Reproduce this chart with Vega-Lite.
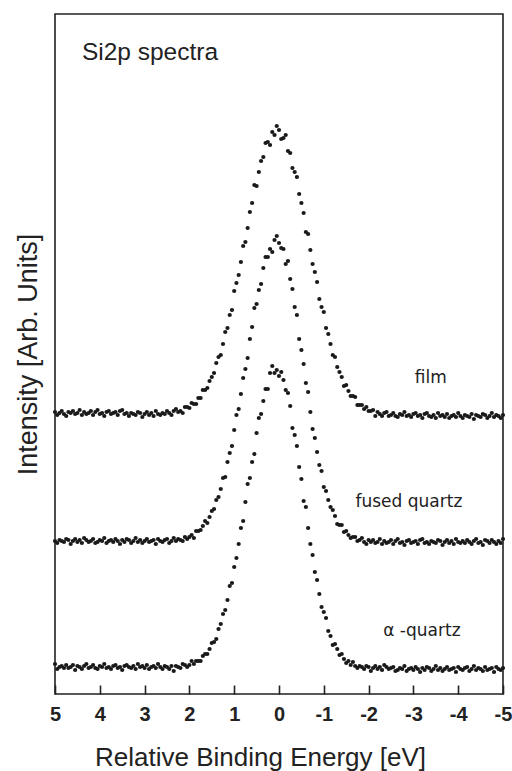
{
"$schema":"https://vega.github.io/schema/vega-lite/v6.json",
"width":448,"height":680,
"autosize":{"type":"none"},
"padding":{"left":55,"top":14,"right":9,"bottom":77},
"background":"white",
"config":{"view":{"stroke":"#222","strokeWidth":1.6},"font":"Liberation Sans"},
"datasets":{
"film":[{"e":5,"v":282},{"e":4.95,"v":279},{"e":4.9,"v":281},{"e":4.85,"v":283},{"e":4.8,"v":280},{"e":4.75,"v":278},{"e":4.7,"v":282},{"e":4.65,"v":281},{"e":4.6,"v":283},{"e":4.55,"v":280},
{"e":4.5,"v":281},{"e":4.45,"v":284},{"e":4.4,"v":279},{"e":4.35,"v":282},{"e":4.3,"v":280},{"e":4.25,"v":281},{"e":4.2,"v":283},{"e":4.15,"v":279},{"e":4.1,"v":282},{"e":4.05,"v":284},
{"e":4,"v":280},{"e":3.95,"v":281},{"e":3.9,"v":278},{"e":3.85,"v":282},{"e":3.8,"v":283},{"e":3.75,"v":280},{"e":3.7,"v":281},{"e":3.65,"v":282},{"e":3.6,"v":279},{"e":3.55,"v":283},
{"e":3.5,"v":284},{"e":3.45,"v":280},{"e":3.4,"v":281},{"e":3.35,"v":278},{"e":3.3,"v":281},{"e":3.25,"v":280},{"e":3.2,"v":279},{"e":3.15,"v":282},{"e":3.1,"v":281},{"e":3.05,"v":277},
{"e":3,"v":280},{"e":2.95,"v":282},{"e":2.9,"v":279},{"e":2.85,"v":281},{"e":2.8,"v":278},{"e":2.75,"v":283},{"e":2.7,"v":280},{"e":2.65,"v":279},{"e":2.6,"v":281},{"e":2.55,"v":280},
{"e":2.5,"v":283},{"e":2.45,"v":281},{"e":2.4,"v":279},{"e":2.35,"v":283},{"e":2.3,"v":285},{"e":2.25,"v":282},{"e":2.2,"v":283},{"e":2.15,"v":281},{"e":2.1,"v":287},{"e":2.05,"v":287},
{"e":2,"v":286},{"e":1.95,"v":291},{"e":1.9,"v":290},{"e":1.85,"v":290},{"e":1.8,"v":296},{"e":1.75,"v":296},{"e":1.7,"v":304},{"e":1.65,"v":304},{"e":1.6,"v":306},{"e":1.55,"v":313},
{"e":1.5,"v":317},{"e":1.45,"v":321},{"e":1.4,"v":331},{"e":1.35,"v":337},{"e":1.3,"v":339},{"e":1.25,"v":350},{"e":1.2,"v":362},{"e":1.15,"v":366},{"e":1.1,"v":379},{"e":1.05,"v":384},
{"e":1,"v":403},{"e":0.95,"v":411},{"e":0.9,"v":419},{"e":0.85,"v":432},{"e":0.8,"v":448},{"e":0.75,"v":452},{"e":0.7,"v":466},{"e":0.65,"v":482},{"e":0.6,"v":491},{"e":0.55,"v":509},
{"e":0.5,"v":508},{"e":0.45,"v":522},{"e":0.4,"v":533},{"e":0.35,"v":537},{"e":0.3,"v":551},{"e":0.25,"v":552},{"e":0.2,"v":549},{"e":0.15,"v":562},{"e":0.1,"v":559},{"e":0.05,"v":568},
{"e":0,"v":564},{"e":-0.05,"v":555},{"e":-0.1,"v":556},{"e":-0.15,"v":559},{"e":-0.2,"v":543},{"e":-0.25,"v":541},{"e":-0.3,"v":526},{"e":-0.35,"v":522},{"e":-0.4,"v":517},{"e":-0.45,"v":500},
{"e":-0.5,"v":491},{"e":-0.55,"v":481},{"e":-0.6,"v":462},{"e":-0.65,"v":460},{"e":-0.7,"v":444},{"e":-0.75,"v":430},{"e":-0.8,"v":422},{"e":-0.85,"v":412},{"e":-0.9,"v":395},{"e":-0.95,"v":387},
{"e":-1,"v":382},{"e":-1.05,"v":366},{"e":-1.1,"v":360},{"e":-1.15,"v":350},{"e":-1.2,"v":339},{"e":-1.25,"v":337},{"e":-1.3,"v":327},{"e":-1.35,"v":322},{"e":-1.4,"v":317},{"e":-1.45,"v":308},
{"e":-1.5,"v":309},{"e":-1.55,"v":303},{"e":-1.6,"v":298},{"e":-1.65,"v":298},{"e":-1.7,"v":297},{"e":-1.75,"v":289},{"e":-1.8,"v":289},{"e":-1.85,"v":289},{"e":-1.9,"v":285},{"e":-1.95,"v":287},
{"e":-2,"v":283},{"e":-2.05,"v":283},{"e":-2.1,"v":284},{"e":-2.15,"v":278},{"e":-2.2,"v":282},{"e":-2.25,"v":280},{"e":-2.3,"v":278},{"e":-2.35,"v":281},{"e":-2.4,"v":282},{"e":-2.45,"v":278},
{"e":-2.5,"v":279},{"e":-2.55,"v":281},{"e":-2.6,"v":278},{"e":-2.65,"v":277},{"e":-2.7,"v":280},{"e":-2.75,"v":279},{"e":-2.8,"v":282},{"e":-2.85,"v":278},{"e":-2.9,"v":279},{"e":-2.95,"v":277},
{"e":-3,"v":280},{"e":-3.05,"v":281},{"e":-3.1,"v":278},{"e":-3.15,"v":279},{"e":-3.2,"v":276},{"e":-3.25,"v":280},{"e":-3.3,"v":281},{"e":-3.35,"v":278},{"e":-3.4,"v":277},{"e":-3.45,"v":279},
{"e":-3.5,"v":276},{"e":-3.55,"v":281},{"e":-3.6,"v":278},{"e":-3.65,"v":279},{"e":-3.7,"v":277},{"e":-3.75,"v":280},{"e":-3.8,"v":276},{"e":-3.85,"v":278},{"e":-3.9,"v":279},{"e":-3.95,"v":277},
{"e":-4,"v":281},{"e":-4.05,"v":278},{"e":-4.1,"v":276},{"e":-4.15,"v":279},{"e":-4.2,"v":278},{"e":-4.25,"v":277},{"e":-4.3,"v":280},{"e":-4.35,"v":275},{"e":-4.4,"v":279},{"e":-4.45,"v":278},
{"e":-4.5,"v":277},{"e":-4.55,"v":280},{"e":-4.6,"v":279},{"e":-4.65,"v":276},{"e":-4.7,"v":278},{"e":-4.75,"v":281},{"e":-4.8,"v":277},{"e":-4.85,"v":279},{"e":-4.9,"v":278},{"e":-4.95,"v":276},
{"e":-5,"v":279}],
"fused":[{"e":5,"v":153},{"e":4.95,"v":151},{"e":4.9,"v":154},{"e":4.85,"v":153},{"e":4.8,"v":152},{"e":4.75,"v":155},{"e":4.7,"v":154},{"e":4.65,"v":150},{"e":4.6,"v":153},{"e":4.55,"v":155},
{"e":4.5,"v":152},{"e":4.45,"v":154},{"e":4.4,"v":151},{"e":4.35,"v":156},{"e":4.3,"v":154},{"e":4.25,"v":152},{"e":4.2,"v":153},{"e":4.15,"v":155},{"e":4.1,"v":151},{"e":4.05,"v":152},
{"e":4,"v":154},{"e":3.95,"v":153},{"e":3.9,"v":156},{"e":3.85,"v":151},{"e":3.8,"v":153},{"e":3.75,"v":154},{"e":3.7,"v":152},{"e":3.65,"v":155},{"e":3.6,"v":153},{"e":3.55,"v":150},
{"e":3.5,"v":154},{"e":3.45,"v":152},{"e":3.4,"v":155},{"e":3.35,"v":154},{"e":3.3,"v":151},{"e":3.25,"v":153},{"e":3.2,"v":156},{"e":3.15,"v":152},{"e":3.1,"v":154},{"e":3.05,"v":151},
{"e":3,"v":153},{"e":2.95,"v":155},{"e":2.9,"v":152},{"e":2.85,"v":153},{"e":2.8,"v":154},{"e":2.75,"v":150},{"e":2.7,"v":155},{"e":2.65,"v":153},{"e":2.6,"v":152},{"e":2.55,"v":154},
{"e":2.5,"v":155},{"e":2.45,"v":151},{"e":2.4,"v":153},{"e":2.35,"v":156},{"e":2.3,"v":153},{"e":2.25,"v":155},{"e":2.2,"v":154},{"e":2.15,"v":153},{"e":2.1,"v":157},{"e":2.05,"v":155},
{"e":2,"v":157},{"e":1.95,"v":159},{"e":1.9,"v":156},{"e":1.85,"v":163},{"e":1.8,"v":163},{"e":1.75,"v":164},{"e":1.7,"v":168},{"e":1.65,"v":173},{"e":1.6,"v":171},{"e":1.55,"v":177},
{"e":1.5,"v":183},{"e":1.45,"v":185},{"e":1.4,"v":194},{"e":1.35,"v":197},{"e":1.3,"v":205},{"e":1.25,"v":216},{"e":1.2,"v":217},{"e":1.15,"v":232},{"e":1.1,"v":241},{"e":1.05,"v":248},
{"e":1,"v":264},{"e":0.95,"v":279},{"e":0.9,"v":285},{"e":0.85,"v":300},{"e":0.8,"v":316},{"e":0.75,"v":325},{"e":0.7,"v":336},{"e":0.65,"v":355},{"e":0.6,"v":367},{"e":0.55,"v":386},
{"e":0.5,"v":390},{"e":0.45,"v":404},{"e":0.4,"v":410},{"e":0.35,"v":426},{"e":0.3,"v":437},{"e":0.25,"v":437},{"e":0.2,"v":445},{"e":0.15,"v":442},{"e":0.1,"v":454},{"e":0.05,"v":458},
{"e":0,"v":451},{"e":-0.05,"v":446},{"e":-0.1,"v":445},{"e":-0.15,"v":430},{"e":-0.2,"v":433},{"e":-0.25,"v":415},{"e":-0.3,"v":405},{"e":-0.35,"v":387},{"e":-0.4,"v":379},{"e":-0.45,"v":355},
{"e":-0.5,"v":344},{"e":-0.55,"v":330},{"e":-0.6,"v":311},{"e":-0.65,"v":302},{"e":-0.7,"v":282},{"e":-0.75,"v":265},{"e":-0.8,"v":256},{"e":-0.85,"v":242},{"e":-0.9,"v":229},{"e":-0.95,"v":223},
{"e":-1,"v":207},{"e":-1.05,"v":203},{"e":-1.1,"v":194},{"e":-1.15,"v":187},{"e":-1.2,"v":184},{"e":-1.25,"v":178},{"e":-1.3,"v":170},{"e":-1.35,"v":169},{"e":-1.4,"v":169},{"e":-1.45,"v":162},
{"e":-1.5,"v":163},{"e":-1.55,"v":159},{"e":-1.6,"v":156},{"e":-1.65,"v":157},{"e":-1.7,"v":157},{"e":-1.75,"v":153},{"e":-1.8,"v":154},{"e":-1.85,"v":156},{"e":-1.9,"v":152},{"e":-1.95,"v":150},
{"e":-2,"v":154},{"e":-2.05,"v":152},{"e":-2.1,"v":154},{"e":-2.15,"v":151},{"e":-2.2,"v":152},{"e":-2.25,"v":155},{"e":-2.3,"v":150},{"e":-2.35,"v":153},{"e":-2.4,"v":151},{"e":-2.45,"v":152},
{"e":-2.5,"v":154},{"e":-2.55,"v":150},{"e":-2.6,"v":153},{"e":-2.65,"v":155},{"e":-2.7,"v":151},{"e":-2.75,"v":152},{"e":-2.8,"v":149},{"e":-2.85,"v":153},{"e":-2.9,"v":154},{"e":-2.95,"v":151},
{"e":-3,"v":152},{"e":-3.05,"v":153},{"e":-3.1,"v":150},{"e":-3.15,"v":154},{"e":-3.2,"v":155},{"e":-3.25,"v":151},{"e":-3.3,"v":152},{"e":-3.35,"v":150},{"e":-3.4,"v":153},{"e":-3.45,"v":152},
{"e":-3.5,"v":151},{"e":-3.55,"v":154},{"e":-3.6,"v":153},{"e":-3.65,"v":149},{"e":-3.7,"v":152},{"e":-3.75,"v":154},{"e":-3.8,"v":151},{"e":-3.85,"v":153},{"e":-3.9,"v":150},{"e":-3.95,"v":155},
{"e":-4,"v":152},{"e":-4.05,"v":151},{"e":-4.1,"v":153},{"e":-4.15,"v":151},{"e":-4.2,"v":154},{"e":-4.25,"v":152},{"e":-4.3,"v":150},{"e":-4.35,"v":153},{"e":-4.4,"v":155},{"e":-4.45,"v":151},
{"e":-4.5,"v":152},{"e":-4.55,"v":149},{"e":-4.6,"v":154},{"e":-4.65,"v":153},{"e":-4.7,"v":151},{"e":-4.75,"v":154},{"e":-4.8,"v":152},{"e":-4.85,"v":150},{"e":-4.9,"v":153},{"e":-4.95,"v":151},
{"e":-5,"v":155}],
"alpha":[{"e":5,"v":30},{"e":4.95,"v":25},{"e":4.9,"v":27},{"e":4.85,"v":28},{"e":4.8,"v":26},{"e":4.75,"v":29},{"e":4.7,"v":26},{"e":4.65,"v":27},{"e":4.6,"v":29},{"e":4.55,"v":24},
{"e":4.5,"v":28},{"e":4.45,"v":27},{"e":4.4,"v":25},{"e":4.35,"v":28},{"e":4.3,"v":30},{"e":4.25,"v":26},{"e":4.2,"v":27},{"e":4.15,"v":29},{"e":4.1,"v":26},{"e":4.05,"v":25},
{"e":4,"v":28},{"e":3.95,"v":27},{"e":3.9,"v":30},{"e":3.85,"v":26},{"e":3.8,"v":27},{"e":3.75,"v":25},{"e":3.7,"v":28},{"e":3.65,"v":29},{"e":3.6,"v":26},{"e":3.55,"v":27},
{"e":3.5,"v":24},{"e":3.45,"v":28},{"e":3.4,"v":29},{"e":3.35,"v":27},{"e":3.3,"v":26},{"e":3.25,"v":28},{"e":3.2,"v":25},{"e":3.15,"v":30},{"e":3.1,"v":27},{"e":3.05,"v":28},
{"e":3,"v":26},{"e":2.95,"v":29},{"e":2.9,"v":25},{"e":2.85,"v":27},{"e":2.8,"v":28},{"e":2.75,"v":26},{"e":2.7,"v":30},{"e":2.65,"v":27},{"e":2.6,"v":25},{"e":2.55,"v":28},
{"e":2.5,"v":27},{"e":2.45,"v":25},{"e":2.4,"v":28},{"e":2.35,"v":23},{"e":2.3,"v":28},{"e":2.25,"v":27},{"e":2.2,"v":26},{"e":2.15,"v":30},{"e":2.1,"v":29},{"e":2.05,"v":27},
{"e":2,"v":29},{"e":1.95,"v":33},{"e":1.9,"v":30},{"e":1.85,"v":33},{"e":1.8,"v":33},{"e":1.75,"v":33},{"e":1.7,"v":38},{"e":1.65,"v":40},{"e":1.6,"v":40},{"e":1.55,"v":45},
{"e":1.5,"v":51},{"e":1.45,"v":52},{"e":1.4,"v":55},{"e":1.35,"v":65},{"e":1.3,"v":70},{"e":1.25,"v":80},{"e":1.2,"v":84},{"e":1.15,"v":94},{"e":1.1,"v":108},{"e":1.05,"v":111},
{"e":1,"v":127},{"e":0.95,"v":136},{"e":0.9,"v":150},{"e":0.85,"v":166},{"e":0.8,"v":173},{"e":0.75,"v":192},{"e":0.7,"v":210},{"e":0.65,"v":216},{"e":0.6,"v":232},{"e":0.55,"v":240},
{"e":0.5,"v":261},{"e":0.45,"v":276},{"e":0.4,"v":280},{"e":0.35,"v":293},{"e":0.3,"v":305},{"e":0.25,"v":305},{"e":0.2,"v":321},{"e":0.15,"v":328},{"e":0.1,"v":321},{"e":0.05,"v":324},
{"e":0,"v":318},{"e":-0.05,"v":322},{"e":-0.1,"v":314},{"e":-0.15,"v":304},{"e":-0.2,"v":301},{"e":-0.25,"v":288},{"e":-0.3,"v":266},{"e":-0.35,"v":259},{"e":-0.4,"v":248},{"e":-0.45,"v":227},
{"e":-0.5,"v":215},{"e":-0.55,"v":193},{"e":-0.6,"v":187},{"e":-0.65,"v":166},{"e":-0.7,"v":150},{"e":-0.75,"v":139},{"e":-0.8,"v":122},{"e":-0.85,"v":114},{"e":-0.9,"v":100},{"e":-0.95,"v":87},
{"e":-1,"v":82},{"e":-1.05,"v":76},{"e":-1.1,"v":63},{"e":-1.15,"v":58},{"e":-1.2,"v":49},{"e":-1.25,"v":50},{"e":-1.3,"v":45},{"e":-1.35,"v":39},{"e":-1.4,"v":40},{"e":-1.45,"v":35},
{"e":-1.5,"v":31},{"e":-1.55,"v":33},{"e":-1.6,"v":29},{"e":-1.65,"v":32},{"e":-1.7,"v":28},{"e":-1.75,"v":26},{"e":-1.8,"v":28},{"e":-1.85,"v":27},{"e":-1.9,"v":25},{"e":-1.95,"v":28},
{"e":-2,"v":27},{"e":-2.05,"v":23},{"e":-2.1,"v":26},{"e":-2.15,"v":28},{"e":-2.2,"v":25},{"e":-2.25,"v":27},{"e":-2.3,"v":24},{"e":-2.35,"v":29},{"e":-2.4,"v":27},{"e":-2.45,"v":25},
{"e":-2.5,"v":26},{"e":-2.55,"v":27},{"e":-2.6,"v":23},{"e":-2.65,"v":24},{"e":-2.7,"v":26},{"e":-2.75,"v":25},{"e":-2.8,"v":28},{"e":-2.85,"v":23},{"e":-2.9,"v":25},{"e":-2.95,"v":26},
{"e":-3,"v":24},{"e":-3.05,"v":27},{"e":-3.1,"v":25},{"e":-3.15,"v":22},{"e":-3.2,"v":26},{"e":-3.25,"v":24},{"e":-3.3,"v":27},{"e":-3.35,"v":26},{"e":-3.4,"v":23},{"e":-3.45,"v":25},
{"e":-3.5,"v":28},{"e":-3.55,"v":24},{"e":-3.6,"v":26},{"e":-3.65,"v":23},{"e":-3.7,"v":25},{"e":-3.75,"v":27},{"e":-3.8,"v":24},{"e":-3.85,"v":25},{"e":-3.9,"v":26},{"e":-3.95,"v":22},
{"e":-4,"v":27},{"e":-4.05,"v":25},{"e":-4.1,"v":24},{"e":-4.15,"v":26},{"e":-4.2,"v":27},{"e":-4.25,"v":23},{"e":-4.3,"v":25},{"e":-4.35,"v":28},{"e":-4.4,"v":24},{"e":-4.45,"v":26},
{"e":-4.5,"v":25},{"e":-4.55,"v":23},{"e":-4.6,"v":27},{"e":-4.65,"v":24},{"e":-4.7,"v":25},{"e":-4.75,"v":26},{"e":-4.8,"v":22},{"e":-4.85,"v":27},{"e":-4.9,"v":25},{"e":-4.95,"v":24},
{"e":-5,"v":26}],
"minor":[{"e":4.5},{"e":3.5},{"e":2.5},{"e":1.5},{"e":0.5},{"e":-0.5},{"e":-1.5},{"e":-2.5},{"e":-3.5},{"e":-4.5}],
"labels":[{"e":-3.39,"v":316,"t":"film"},{"e":-2.9,"v":192,"t":"fused quartz"},{"e":-3.19,"v":63,"t":"α -quartz"}],
"heading":[{"e":4.4,"v":641,"t":"Si2p spectra"}]
},
"encoding":{
"x":{"field":"e","type":"quantitative",
"scale":{"domain":[-5,5],"reverse":true,"nice":false,"zero":false},
"axis":{"values":[-5,-4,-3,-2,-1,0,1,2,3,4,5],
"labelExpr":"'' + datum.value",
"tickSize":-9,
"tickColor":"#222","tickWidth":1.6,"domain":false,"grid":false,
"labelFontSize":20,"labelFontWeight":"bold","labelColor":"#222","labelPadding":19,"labelFlush":false,
"title":"Relative Binding Energy [eV]","titleFontSize":26,"titleFontWeight":"normal","titleColor":"#222",
"titleX":205,"titleY":71,"titleAlign":"center","titleBaseline":"alphabetic"}},
"y":{"field":"v","type":"quantitative",
"scale":{"domain":[0,680],"nice":false,"zero":false},
"axis":{"ticks":false,"labels":false,"domain":false,"grid":false,
"title":"Intensity [Arb. Units]","titleFontSize":27,"titleFontWeight":"normal","titleColor":"#222","titlePadding":13}}
},
"layer":[
{"data":{"name":"minor"},"mark":{"type":"rule","color":"#222","strokeWidth":1.6},"encoding":{"y":{"datum":0},"y2":{"datum":6}}},
{"data":{"name":"film"},"mark":{"type":"circle","size":18,"color":"#1a1a1a","opacity":1}},
{"data":{"name":"fused"},"mark":{"type":"circle","size":18,"color":"#1a1a1a","opacity":1}},
{"data":{"name":"alpha"},"mark":{"type":"circle","size":18,"color":"#1a1a1a","opacity":1}},
{"data":{"name":"labels"},"mark":{"type":"text","font":"DejaVu Sans","fontSize":17,"align":"center","baseline":"middle","color":"#222"},"encoding":{"text":{"field":"t"}}},
{"data":{"name":"heading"},"mark":{"type":"text","font":"Liberation Sans","fontSize":24.5,"align":"left","baseline":"middle","color":"#222"},"encoding":{"text":{"field":"t"}}}
]
}
